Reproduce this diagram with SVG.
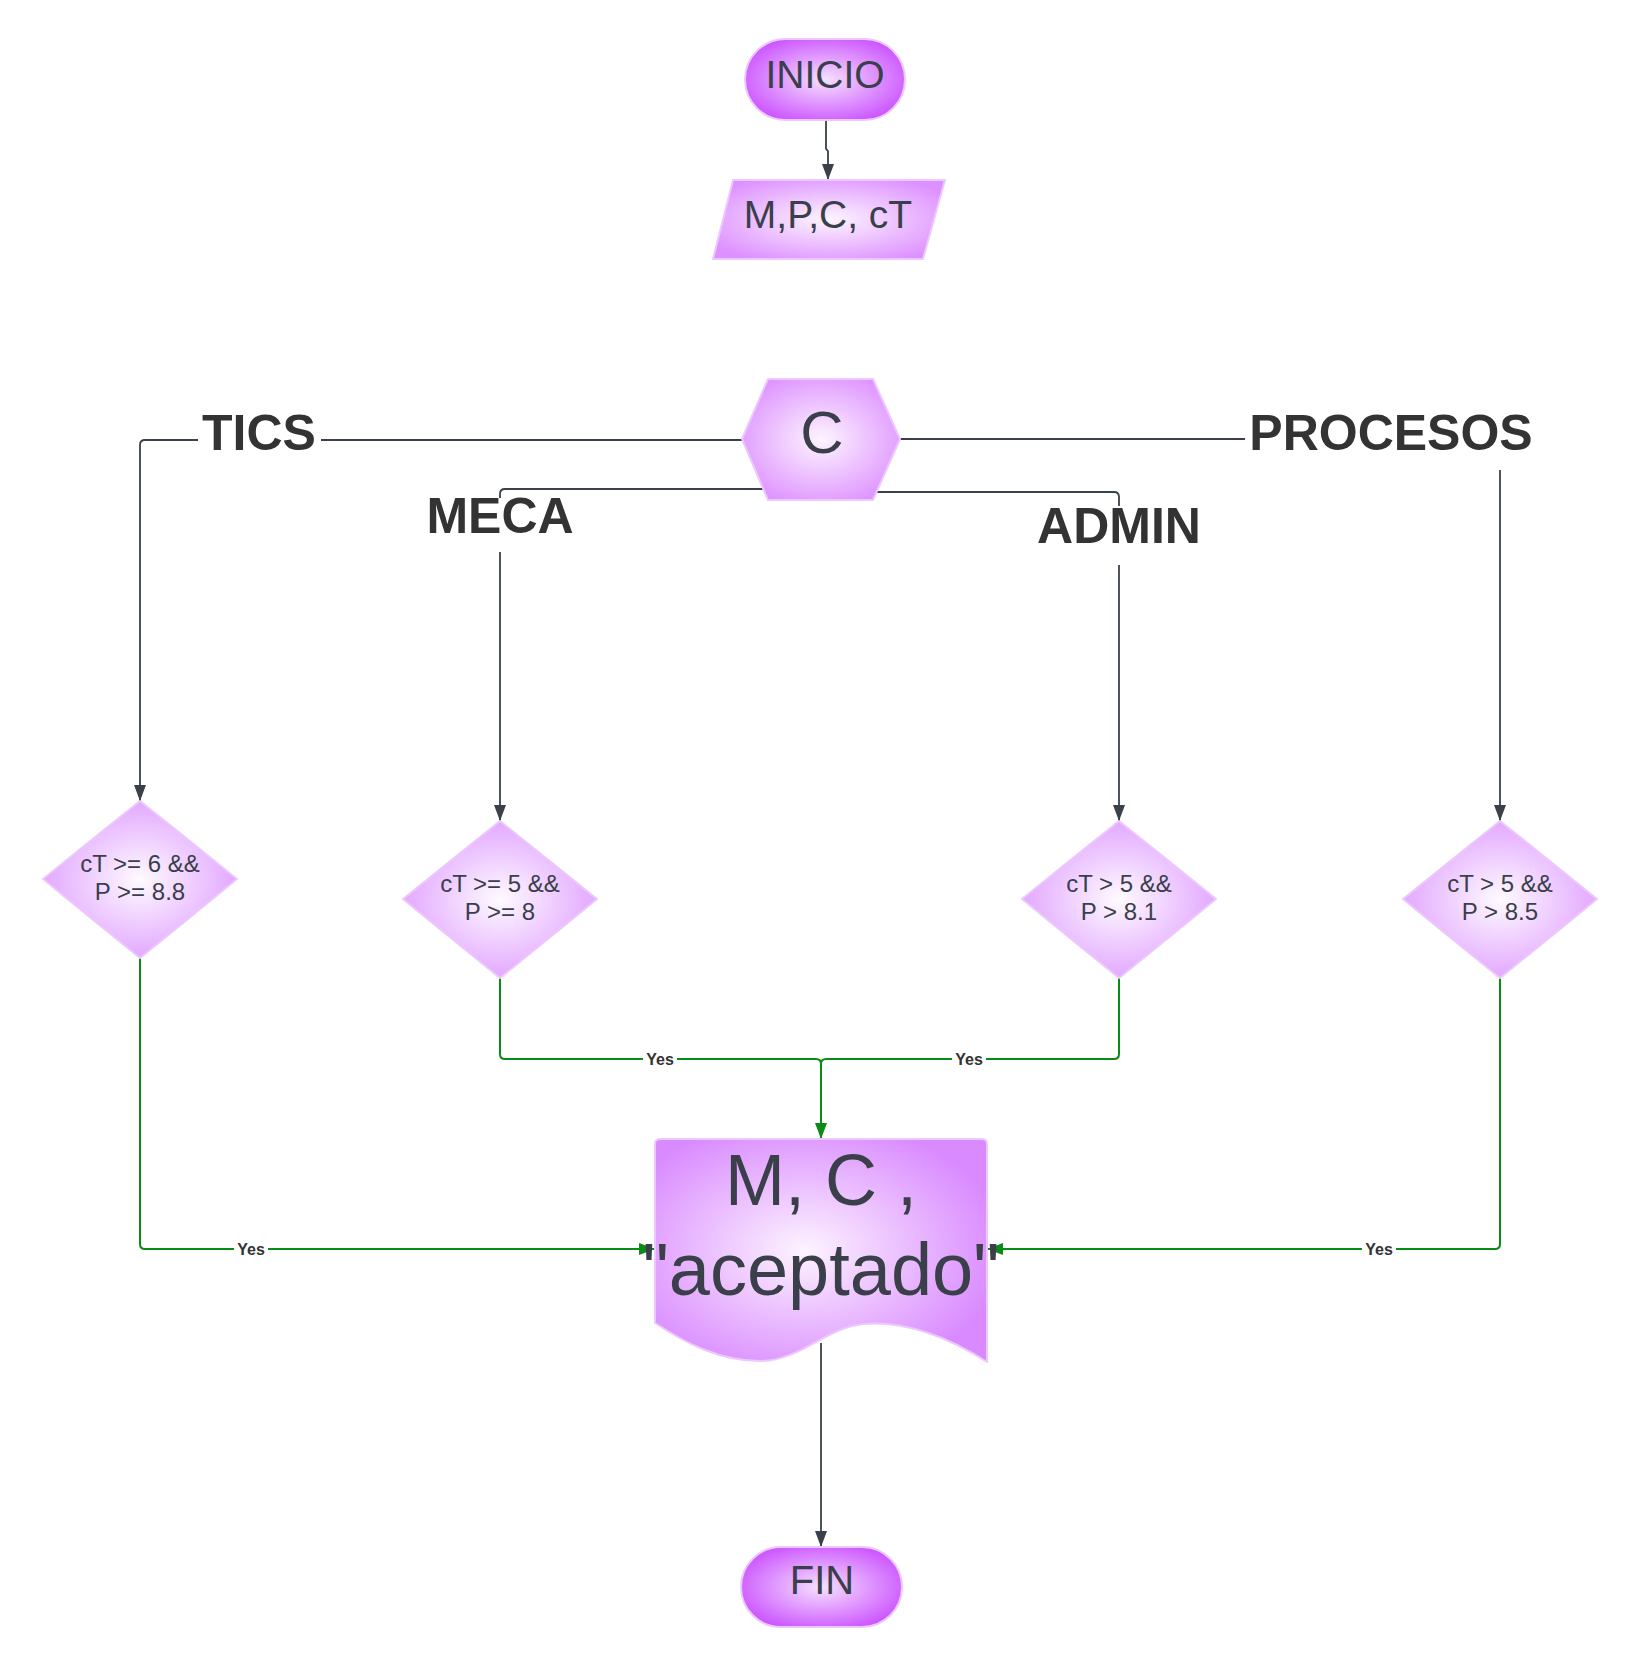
<svg xmlns="http://www.w3.org/2000/svg" width="1640" height="1667" viewBox="0 0 1640 1667">
<defs>
<radialGradient id="gTerm" cx="50%" cy="50%" r="60%">
<stop offset="0" stop-color="#f6e0ff"/>
<stop offset="1" stop-color="#c94cff"/>
</radialGradient>
<radialGradient id="gNode" cx="50%" cy="50%" r="60%">
<stop offset="0" stop-color="#fdf4ff"/>
<stop offset="1" stop-color="#dd90ff"/>
</radialGradient>
<radialGradient id="gDia" cx="50%" cy="50%" r="55%">
<stop offset="0" stop-color="#fefaff"/>
<stop offset="1" stop-color="#e0a0ff"/>
</radialGradient>
<radialGradient id="gDoc" cx="45%" cy="50%" r="60%">
<stop offset="0" stop-color="#fdf3ff"/>
<stop offset="1" stop-color="#d98aff"/>
</radialGradient>
<marker id="arrD" viewBox="0 0 16 12" refX="16" refY="6" markerWidth="16" markerHeight="12" markerUnits="userSpaceOnUse" orient="auto">
<path d="M0 0 L16 6 L0 12 Z" fill="#3a414a"/>
</marker>
<marker id="arrG" viewBox="0 0 16 12" refX="16" refY="6" markerWidth="16" markerHeight="12" markerUnits="userSpaceOnUse" orient="auto">
<path d="M0 0 L16 6 L0 12 Z" fill="#0a8a16"/>
</marker>
</defs>
<style>
.shape{stroke:#ecc8ff;stroke-width:2;stroke-linejoin:round}
.ntext{font-family:"Liberation Sans",Arial,sans-serif;fill:#3a3f4a;text-anchor:middle}
.lab{font-family:"Liberation Sans",Arial,sans-serif;font-weight:bold;fill:#333333;text-anchor:middle;font-size:50px}
.yes{font-family:"Liberation Sans",Arial,sans-serif;font-weight:bold;fill:#333333;text-anchor:middle;font-size:16px}
.cd{fill:none;stroke:#3a414a;stroke-width:1.8}
.cg{fill:none;stroke:#0a8a16;stroke-width:2}
</style>
<rect width="1640" height="1667" fill="#ffffff"/>

<g id="connectors">
<path class="cd" d="M826 120 V149 L828 151 V180" marker-end="url(#arrD)"/>
<path class="cd" d="M742 440 H321"/>
<path class="cd" d="M198 440 H145 Q140 440 140 445 V801" marker-end="url(#arrD)"/>
<path class="cd" d="M764 489 H505 Q500 489 500 494 V498"/>
<path class="cd" d="M500 552 V821" marker-end="url(#arrD)"/>
<path class="cd" d="M876 492 H1114 Q1119 492 1119 497 V506"/>
<path class="cd" d="M1119 565 V821" marker-end="url(#arrD)"/>
<path class="cd" d="M900 439 H1245"/>
<path class="cd" d="M1500 470 V821" marker-end="url(#arrD)"/>
<path class="cg" d="M500 978 V1054 Q500 1059 505 1059 H816 Q821 1059 821 1064 V1139" marker-end="url(#arrG)"/>
<path class="cg" d="M1119 978 V1054 Q1119 1059 1114 1059 H826 Q821 1059 821 1064"/>
<path class="cg" d="M140 958 V1244 Q140 1249 145 1249 H655" marker-end="url(#arrG)"/>
<path class="cg" d="M1500 978 V1244 Q1500 1249 1495 1249 H987" marker-end="url(#arrG)"/>
<path class="cd" d="M821 1343 V1547" marker-end="url(#arrD)"/>
<rect x="643" y="1050" width="34" height="18" fill="#ffffff"/>
<text class="yes" x="660" y="1065">Yes</text>
<rect x="952" y="1050" width="34" height="18" fill="#ffffff"/>
<text class="yes" x="969" y="1065">Yes</text>
<rect x="234" y="1240" width="34" height="18" fill="#ffffff"/>
<text class="yes" x="251" y="1255">Yes</text>
<rect x="1362" y="1240" width="34" height="18" fill="#ffffff"/>
<text class="yes" x="1379" y="1255">Yes</text>
<text class="lab" x="259" y="450">TICS</text>
<text class="lab" x="500" y="533">MECA</text>
<text class="lab" x="1119" y="543">ADMIN</text>
<text class="lab" x="1391" y="450">PROCESOS</text>
</g>

<g id="inicio">
<rect class="shape" x="745" y="39" width="160" height="81" rx="40.5" fill="url(#gTerm)"/>
<text class="ntext" x="825" y="88" font-size="39">INICIO</text>
</g>

<g id="entrada">
<path class="shape" d="M733 180 H945 L923 259 H713 Z" fill="url(#gNode)"/>
<text class="ntext" x="828" y="228" font-size="39">M,P,C, cT</text>
</g>

<g id="decision-c">
<path class="shape" d="M742 439 L768 379 H873 L900 439 L873 500 H768 Z" fill="url(#gNode)"/>
<text class="ntext" x="822" y="453" font-size="60">C</text>
</g>

<g id="d-tics">
<path class="shape" d="M140 801 L237 879 L140 958 L43 879 Z" fill="url(#gDia)"/>
<text class="ntext" x="140" y="872" font-size="24">cT &gt;= 6 &amp;&amp;</text>
<text class="ntext" x="140" y="900" font-size="24">P &gt;= 8.8</text>
</g>

<g id="d-meca">
<path class="shape" d="M500 821 L597 899 L500 978 L403 899 Z" fill="url(#gDia)"/>
<text class="ntext" x="500" y="892" font-size="24">cT &gt;= 5 &amp;&amp;</text>
<text class="ntext" x="500" y="920" font-size="24">P &gt;= 8</text>
</g>

<g id="d-admin">
<path class="shape" d="M1119 821 L1216 899 L1119 978 L1022 899 Z" fill="url(#gDia)"/>
<text class="ntext" x="1119" y="892" font-size="24">cT &gt; 5 &amp;&amp;</text>
<text class="ntext" x="1119" y="920" font-size="24">P &gt; 8.1</text>
</g>

<g id="d-procesos">
<path class="shape" d="M1500 821 L1597 899 L1500 978 L1403 899 Z" fill="url(#gDia)"/>
<text class="ntext" x="1500" y="892" font-size="24">cT &gt; 5 &amp;&amp;</text>
<text class="ntext" x="1500" y="920" font-size="24">P &gt; 8.5</text>
</g>

<g id="salida">
<path class="shape" d="M655 1144 Q655 1139 660 1139 H982 Q987 1139 987 1144 V1362 C950 1338 905 1320 863 1324 C825 1328 800 1361 760 1361 C720 1361 685 1343 655 1323 Z" fill="url(#gDoc)"/>
<text class="ntext" x="821" y="1205" font-size="72">M, C ,</text>
<text class="ntext" x="821" y="1295" font-size="74">"aceptado"</text>
</g>

<g id="fin">
<rect class="shape" x="741" y="1547" width="161" height="80" rx="40" fill="url(#gTerm)"/>
<text class="ntext" x="822" y="1594" font-size="40">FIN</text>
</g>
</svg>
